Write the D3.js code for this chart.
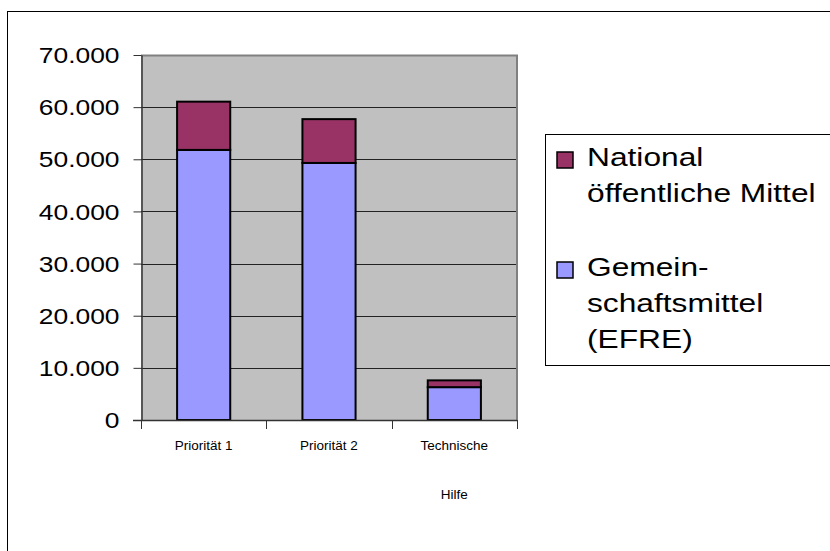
<!DOCTYPE html>
<html>
<head>
<meta charset="utf-8">
<script src="https://cdn.jsdelivr.net/npm/d3@7"></script>
<style>
  body { margin: 0; background: #fff; }
  text { font-family: Arial, "Liberation Sans", sans-serif; fill: #000; }
</style>
</head>
<body>
<div id="chart"></div>
<script>
// data
var categories = ["Priorität 1", "Priorität 2", "Technische Hilfe"];
var tickLabels = [["Priorität 1"], ["Priorität 2"], ["Technische", "Hilfe"]];
var gemeinschaft = [51800, 49300, 6300];   // Gemeinschaftsmittel (EFRE)
var national = [9250, 8400, 1300];         // National öffentliche Mittel
var yTicks = [0, 10000, 20000, 30000, 40000, 50000, 60000, 70000];
var seriesNames = ["National öffentliche Mittel", "Gemeinschaftsmittel (EFRE)"];
var legendLines = [["National", "öffentliche Mittel"], ["Gemein-", "schaftsmittel", "(EFRE)"]];
var colors = ["#993366", "#9999ff"];

var w = 830, h = 551;
var plot = {left: 141, right: 517, top: 55, bottom: 420};

var svg = d3.select("#chart").append("svg")
    .attr("width", w)
    .attr("height", h);

// outer frame
svg.append("rect")
    .attr("x", 7.5).attr("y", 11.5)
    .attr("width", 900).attr("height", 600)
    .attr("fill", "none").attr("stroke", "#000").attr("stroke-width", 1);

var de = d3.formatLocale({decimal: ",", thousands: ".", grouping: [3], currency: ["", " €"]});
var fmt = de.format(",");

var y = d3.scaleLinear().domain([0, 70000]).range([plot.bottom, plot.top]);
var x = d3.scaleBand().domain(categories)
    .range([plot.left, plot.right])
    .paddingInner(0.576).paddingOuter(0.288);

// plot area
svg.append("rect")
    .attr("x", plot.left).attr("y", plot.top)
    .attr("width", plot.right - plot.left).attr("height", plot.bottom - plot.top)
    .attr("fill", "#c0c0c0");

// gridlines
svg.append("g").selectAll("line")
    .data(yTicks.filter(function(d) { return d > 0 && d < 70000; }))
    .enter().append("line")
    .attr("x1", plot.left).attr("x2", plot.right)
    .attr("y1", function(d) { return Math.round(y(d)) + 0.5; })
    .attr("y2", function(d) { return Math.round(y(d)) + 0.5; })
    .attr("stroke", "#222").attr("stroke-width", 1);

// top / right border of plot
svg.append("path")
    .attr("d", "M" + plot.left + "," + (plot.top + 0.5) + "H" + (plot.right) + "V" + plot.bottom)
    .attr("fill", "none").attr("stroke", "#808080").attr("stroke-width", 2);

// stacked bars
var stackData = categories.map(function(c, i) {
  return {cat: c, g: gemeinschaft[i], n: national[i]};
});
var stack = d3.stack().keys(["g", "n"])(stackData);
var keyColor = {g: colors[1], n: colors[0]};

svg.append("g").selectAll("g")
    .data(stack)
    .enter().append("g")
    .attr("fill", function(d) { return keyColor[d.key]; })
  .selectAll("rect")
    .data(function(d) { return d; })
    .enter().append("rect")
    .attr("x", function(d) { return x(d.data.cat); })
    .attr("y", function(d) { return y(d[1]); })
    .attr("width", x.bandwidth())
    .attr("height", function(d) { return y(d[0]) - y(d[1]); })
    .attr("stroke", "#000").attr("stroke-width", 2);

// y axis
var yAxis = svg.append("g")
    .attr("transform", "translate(" + (plot.left + 0.5) + ",0)")
    .call(d3.axisLeft(y).tickValues(yTicks).tickFormat(fmt).tickSize(8).tickSizeOuter(0));
yAxis.select(".domain").attr("stroke", "#333").attr("stroke-width", 1.5);
yAxis.selectAll(".tick line").attr("stroke", "#333");
yAxis.selectAll(".tick text")
    .attr("x", null).attr("dy", null)
    .attr("dominant-baseline", "central")
    .attr("transform", "translate(-22,0) scale(1.2,1)")
    .style("font-size", "22px")
    .style("font-family", "Arial, 'Liberation Sans', sans-serif")
    .attr("fill", "#000");
svg.append("line")
    .attr("x1", plot.left + 0.5).attr("x2", plot.left + 0.5)
    .attr("y1", plot.bottom).attr("y2", plot.bottom + 9)
    .attr("stroke", "#333");

// x axis
svg.append("line")
    .attr("x1", plot.left - 8).attr("x2", plot.right)
    .attr("y1", plot.bottom + 0.5).attr("y2", plot.bottom + 0.5)
    .attr("stroke", "#333").attr("stroke-width", 1.5);
svg.append("g").selectAll("line")
    .data(d3.range(categories.length + 1))
    .enter().append("line")
    .attr("x1", function(i) { return Math.round(plot.left + i * x.step()) + 0.5; })
    .attr("x2", function(i) { return Math.round(plot.left + i * x.step()) + 0.5; })
    .attr("y1", plot.bottom).attr("y2", plot.bottom + 9)
    .attr("stroke", "#333");

var xl = svg.append("g").selectAll("text")
    .data(categories)
    .enter().append("text")
    .attr("text-anchor", "middle")
    .attr("x", function(d) { return x(d) + x.bandwidth() / 2; })
    .attr("y", 450)
    .style("font-size", "13.5px");
xl.each(function(d, i) {
  var t = d3.select(this);
  tickLabels[i].forEach(function(line, j) {
    t.append("tspan")
      .attr("x", x(d) + x.bandwidth() / 2)
      .attr("dy", j === 0 ? 0 : 49)
      .text(line);
  });
});

// legend
var lg = svg.append("g");
lg.append("rect")
    .attr("x", 545.5).attr("y", 134.5)
    .attr("width", 400).attr("height", 231)
    .attr("fill", "#fff").attr("stroke", "#000");

var items = lg.selectAll("g.item")
    .data(seriesNames)
    .enter().append("g")
    .attr("class", "item")
    .attr("transform", function(d, i) { return "translate(557," + (152 + i * 110) + ")"; });
items.append("rect")
    .attr("width", 16).attr("height", 16)
    .attr("fill", function(d, i) { return colors[i]; })
    .attr("stroke", "#000").attr("stroke-width", 1.5);
items.each(function(d, i) {
  var g = d3.select(this);
  legendLines[i].forEach(function(line, j) {
    g.append("text")
      .attr("transform", "translate(30," + (14 + j * 36) + ") scale(1.22,1)")
      .style("font-size", "26px")
      .text(line);
  });
});
</script>
</body>
</html>
